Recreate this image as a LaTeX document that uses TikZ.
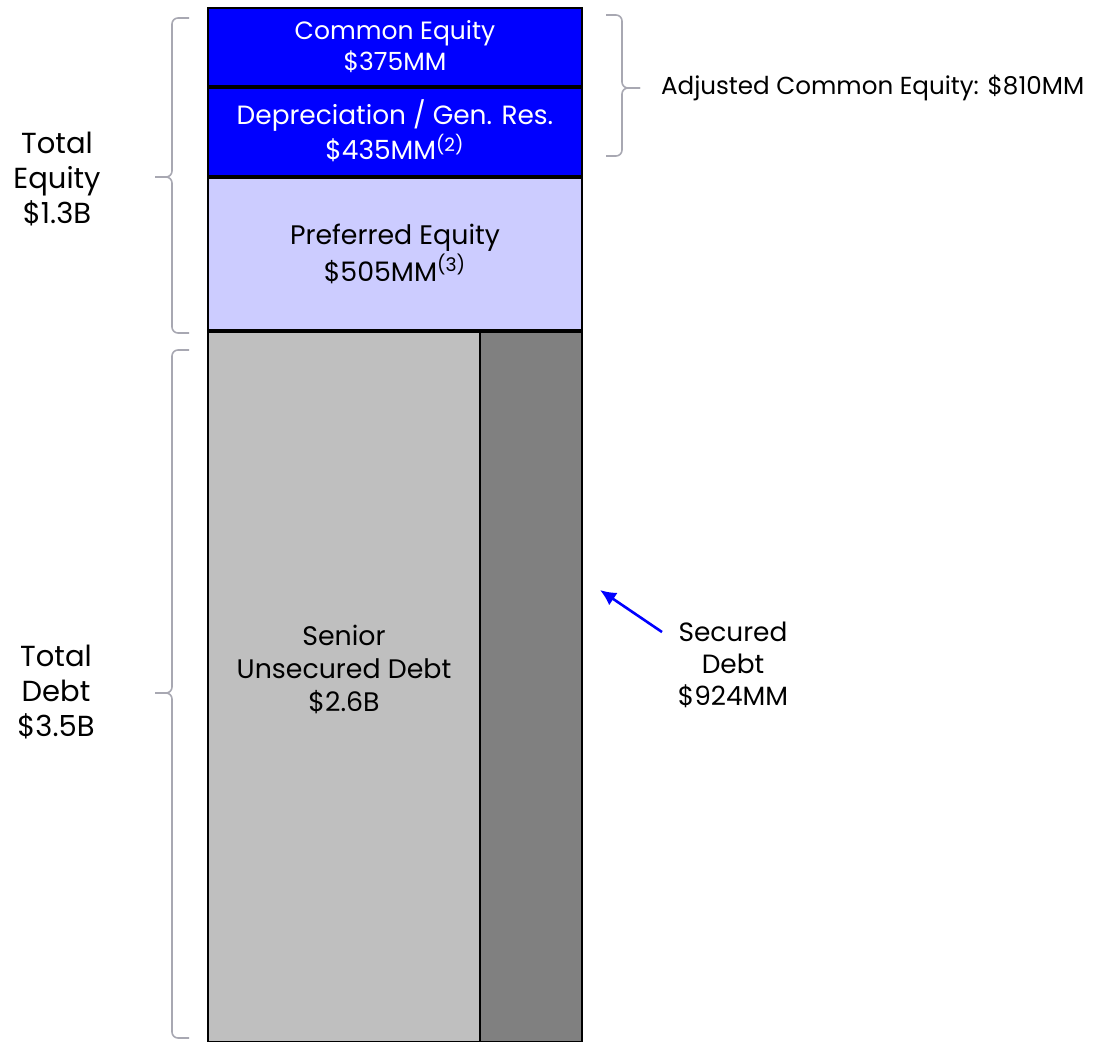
\documentclass[tikz,border=0pt]{standalone}
\usepackage{fontspec}
\setmainfont{Poppins}
\usetikzlibrary{arrows.meta}
\definecolor{eqblue}{RGB}{0,0,255}
\definecolor{prefblue}{RGB}{204,204,255}
\definecolor{unsecgray}{RGB}{191,191,191}
\definecolor{secgray}{RGB}{128,128,128}
\definecolor{brgray}{RGB}{168,168,178}

\begin{document}
\begin{tikzpicture}[x=0.5pt,y=-0.5pt,
  box/.style={draw=black, line width=1.3pt},
  lbl/.style={align=center, font=\fontsize{12.5}{15.5}\selectfont},
  side/.style={align=center, font=\fontsize{14.5}{17.5}\selectfont},
  brc/.style={draw=brgray, line width=0.8pt, rounded corners=3pt}]
\useasboundingbox (0,0) rectangle (1105,1041);
% stacked bar
\draw [box, fill=eqblue] (208,8) rectangle (582,86);
\draw [box, fill=eqblue] (208,88) rectangle (582,176);
\draw [box, fill=prefblue] (208,178) rectangle (582,330);
\draw [box, fill=unsecgray] (208,332) rectangle (480,1042);
\draw [box, fill=secgray] (480,332) rectangle (582,1042);
\node [lbl, text=white] (common) at (395,47) {Common Equity\\\$375MM};
\node [lbl, text=white, font=\fontsize{13.2}{15}\selectfont] (deprec) at (395,131) {Depreciation / Gen. Res.\\\$435MM\textsuperscript{(2)}};
\node [lbl, font=\fontsize{13.4}{17}\selectfont] (prefeq) at (395,254) {Preferred Equity\\\$505MM\textsuperscript{(3)}};
\node [lbl, font=\fontsize{13.4}{16.5}\selectfont] (unsec) at (344,669) {Senior\\Unsecured Debt\\\$2.6B};
% braces
\draw [brc] (189,18) -- (172,18) -- (172,177) -- (155,177);
\draw [brc] (155,177) -- (172,177) -- (172,333) -- (189,333);
\draw [brc] (189,350) -- (172,350) -- (172,693) -- (155,693);
\draw [brc] (155,693) -- (172,693) -- (172,1038) -- (189,1038);
\draw [brc] (606,15) -- (622,15) -- (622,88) -- (640,88);
\draw [brc] (640,88) -- (622,88) -- (622,156) -- (606,156);
\node [side] (toteq) at (57,179) {Total\\Equity\\\$1.3B};
\node [side] (totdebt) at (56,692) {Total\\Debt\\\$3.5B};
\node [lbl, anchor=west, font=\fontsize{12.3}{15}\selectfont] (adjeq) at (654,88) {Adjusted Common Equity: \$810MM};
% secured debt
\node [lbl, font=\fontsize{13.2}{16}\selectfont] (secdebt) at (733,665) {Secured\\Debt\\\$924MM};
\coordinate (arrtail) at (662,632);
\coordinate (arrhead) at (600,590);
\draw [eqblue, line width=1.3pt, -{Latex[length=8pt,width=7.5pt]}] (arrtail) -- (arrhead);
\end{tikzpicture}
\end{document}
